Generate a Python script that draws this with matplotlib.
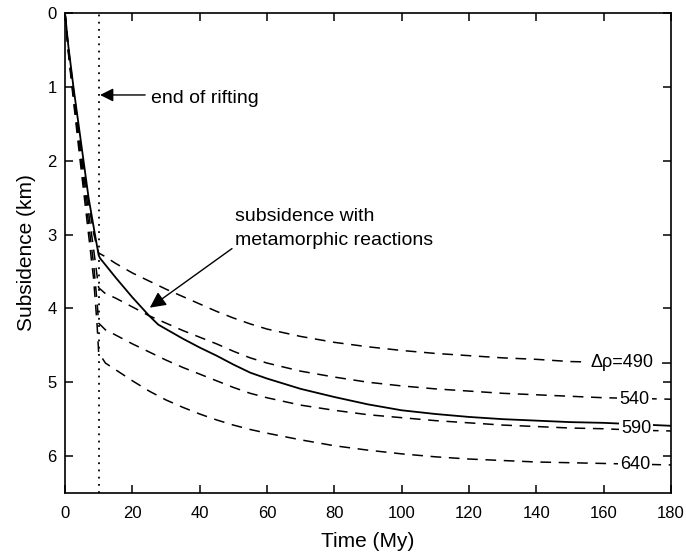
import matplotlib
matplotlib.use("Agg")
import matplotlib.pyplot as plt

plt.rcParams['font.family'] = ['Liberation Sans', 'DejaVu Sans']

# ---- data ----
# solid curve: subsidence with metamorphic reactions
t_solid = [0, 1, 2.5, 4, 5.5, 7, 8.9, 10, 10.4, 15, 20, 25, 27.7, 30, 35, 40, 45, 50, 55, 60,
           70, 80, 90, 100, 110, 120, 130, 140, 150, 160, 170, 180]
z_solid = [0, 0.45, 1.0, 1.5, 2.0, 2.5, 3.0, 3.28, 3.32, 3.58, 3.85, 4.10, 4.22, 4.28, 4.41, 4.53, 4.64, 4.76, 4.87, 4.95,
           5.09, 5.20, 5.30, 5.38, 5.43, 5.47, 5.50, 5.52, 5.54, 5.55, 5.57, 5.59]

# dashed curves for different density contrasts
t_dash = [0, 1, 2.5, 4, 5.5, 7, 8.5, 9.5, 10, 12, 15, 20, 25, 30, 35, 40, 45, 50, 55, 60,
          70, 80, 90, 100, 110, 120, 130, 140, 150, 160, 170, 180]
z_490 = [0, 0.47, 1.03, 1.56, 2.07, 2.57, 2.98, 3.17, 3.25, 3.30, 3.39, 3.52, 3.63, 3.74, 3.84, 3.94, 4.04, 4.13, 4.21, 4.28,
         4.38, 4.46, 4.52, 4.57, 4.61, 4.64, 4.67, 4.69, 4.72, 4.73, 4.74, 4.74]
z_540 = [0, 0.50, 1.08, 1.63, 2.17, 2.70, 3.20, 3.55, 3.72, 3.80, 3.86, 3.98, 4.10, 4.20, 4.30, 4.39, 4.48, 4.58, 4.67, 4.74,
         4.85, 4.93, 5.00, 5.05, 5.09, 5.12, 5.15, 5.17, 5.19, 5.21, 5.22, 5.23]
z_590 = [0, 0.52, 1.13, 1.72, 2.28, 2.85, 3.40, 3.90, 4.20, 4.29, 4.36, 4.48, 4.59, 4.70, 4.80, 4.89, 4.98, 5.07, 5.15, 5.21,
         5.31, 5.38, 5.44, 5.48, 5.52, 5.55, 5.58, 5.60, 5.62, 5.63, 5.65, 5.66]
z_640 = [0, 0.54, 1.18, 1.80, 2.40, 3.00, 3.60, 4.20, 4.60, 4.74, 4.83, 4.98, 5.12, 5.24, 5.34, 5.43, 5.51, 5.58, 5.64, 5.69,
         5.78, 5.86, 5.92, 5.97, 6.01, 6.04, 6.06, 6.08, 6.09, 6.10, 6.11, 6.12]

dash_series = [z_490, z_540, z_590, z_640]
dash_labels = ["Δρ=490", "540", "590", "640"]
label_t = [165.4, 169.2, 169.6, 169.3]
label_z = [4.735, 5.23, 5.62, 6.12]

rift_end = 10
x_ticks = [0, 20, 40, 60, 80, 100, 120, 140, 160, 180]
y_ticks = [0, 1, 2, 3, 4, 5, 6]

# ---- figure ----
fig = plt.figure(figsize=(6.86, 5.55), dpi=100)
ax = fig.add_axes([65/686, 1-493/555, 606/686, 480/555])

for z in dash_series:
    ax.plot(t_dash, z, color='black', lw=1.1, linestyle=(0, (7, 5)))
ax.plot(t_solid, z_solid, color='black', lw=1.3)

ax.axvline(rift_end, color='black', lw=1.3, linestyle=(0, (1, 3)))

for lab, tx, zy in zip(dash_labels, label_t, label_z):
    ax.text(tx, zy, lab, ha='center', va='center', fontsize=13,
            bbox=dict(facecolor='white', edgecolor='none', pad=1.5))

ax.annotate("", xy=(10.4, 1.11), xytext=(23.8, 1.11),
            arrowprops=dict(arrowstyle='-|>', mutation_scale=20, lw=1.0,
                            color='black', shrinkA=0, shrinkB=0))
ax.text(25.45, 1.223, "end of rifting", fontsize=14, ha='left', va='baseline')

ax.annotate("", xy=(25.2, 3.99), xytext=(49.6, 3.19),
            arrowprops=dict(arrowstyle='-|>', mutation_scale=24, lw=1.0,
                            color='black', shrinkA=0, shrinkB=0))
ax.text(50.5, 2.82, "subsidence with", fontsize=14, ha='left', va='baseline')
ax.text(50.5, 3.14, "metamorphic reactions", fontsize=14, ha='left', va='baseline')

ax.set_xlim(0, 180)
ax.set_ylim(6.5, 0)
ax.set_xticks(x_ticks)
ax.set_yticks(y_ticks)
ax.tick_params(direction='in', top=True, right=True, length=6, width=1.1,
               labelsize=12)
ax.tick_params(axis='x', pad=9)
ax.tick_params(axis='y', pad=6)
for s in ax.spines.values():
    s.set_linewidth(1.2)

ax.set_xlabel("Time (My)", fontsize=15, labelpad=8)
ax.set_ylabel("Subsidence (km)", fontsize=15, labelpad=8)

fig.savefig("out.png", dpi=100)
